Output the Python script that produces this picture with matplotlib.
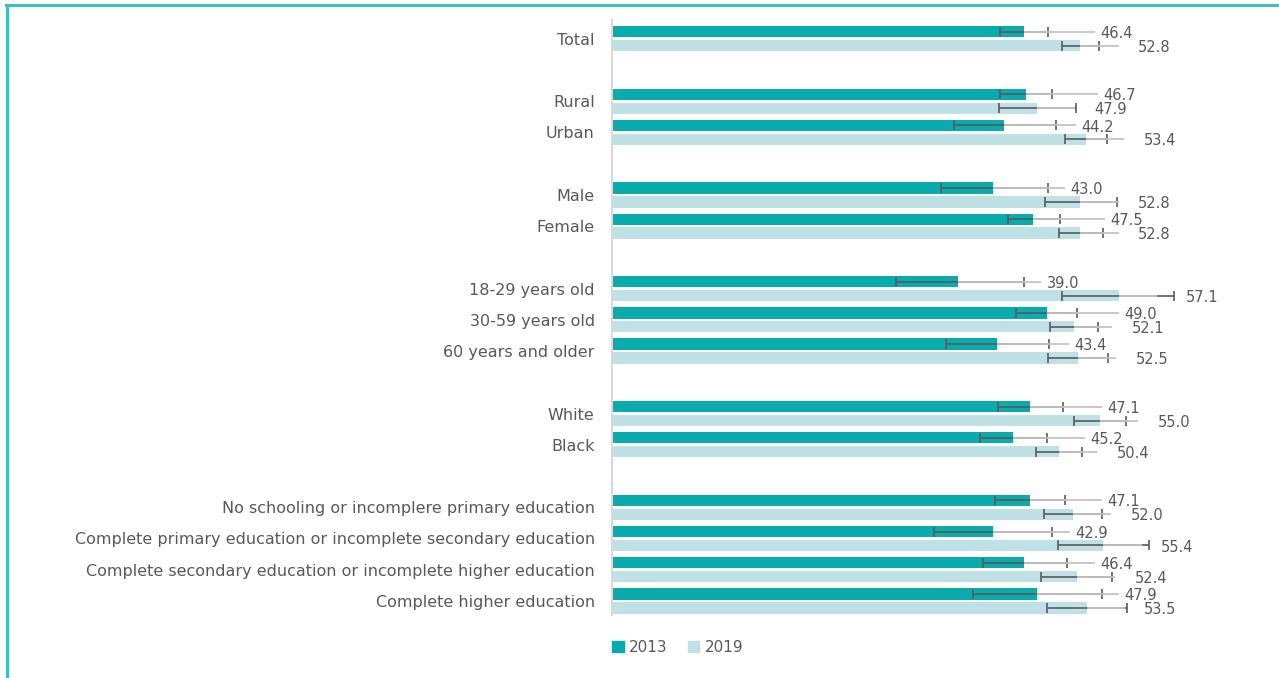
import matplotlib
matplotlib.use("Agg")
import matplotlib.pyplot as plt
from matplotlib.patches import Patch
from matplotlib.lines import Line2D
import numpy as np

categories = ["Total", "Rural", "Urban", "Male", "Female",
              "18-29 years old", "30-59 years old", "60 years and older",
              "White", "Black",
              "No schooling or incomplere primary education",
              "Complete primary education or incomplete secondary education",
              "Complete secondary education or incomplete higher education",
              "Complete higher education"]
# slot of each category on the vertical axis (blank slots separate the groups)
slots = [0, 2, 3, 5, 6, 8, 9, 10, 12, 13, 15, 16, 17, 18]

v2013 = [46.4, 46.7, 44.2, 43.0, 47.5, 39.0, 49.0, 43.4, 47.1, 45.2, 47.1, 42.9, 46.4, 47.9]
lo2013 = [43.7, 43.7, 38.5, 37.1, 44.6, 32.0, 45.5, 37.7, 43.5, 41.5, 43.2, 36.3, 41.8, 40.7]
hi2013 = [49.1, 49.6, 50.0, 49.1, 50.5, 46.4, 52.4, 49.3, 50.8, 49.0, 51.1, 49.6, 51.3, 55.2]

v2019 = [52.8, 47.9, 53.4, 52.8, 52.8, 57.1, 52.1, 52.5, 55.0, 50.4, 52.0, 55.4, 52.4, 53.5]
lo2019 = [50.7, 43.6, 51.1, 48.8, 50.4, 50.7, 49.4, 49.2, 52.1, 47.8, 48.7, 50.3, 48.4, 49.0]
hi2019 = [54.9, 52.3, 55.8, 56.9, 55.3, 63.3, 54.8, 55.9, 57.9, 53.0, 55.2, 60.5, 56.4, 58.0]

c2013 = "#0aabad"
c2019 = "#bfe1e6"
txt = "#595959"

fig = plt.figure(figsize=(12.79, 6.78), dpi=100)
ax = fig.add_axes([0.4785, 0.0929, 0.4855, 0.8776])

y = np.array(slots, dtype=float)
h = 0.36
off = 0.223

# (values, low, high, y, colour, leader length, label pad from value, label pad from high)
series = [
    (v2013, lo2013, hi2013, y - off, c2013, 8.1, 8.7, 2.6),
    (v2019, lo2019, hi2019, y + off, c2019, 4.3, 6.5, 1.4),
]
for vals, lo, hi, yy, col, lead, pad, hpad in series:
    vals = np.array(vals); lo = np.array(lo); hi = np.array(hi)
    ax.barh(yy, vals, height=h, color=col, zorder=2)
    ax.errorbar(vals, yy, xerr=[vals - lo, hi - vals], fmt="none",
                ecolor="#5a5a5a", elinewidth=1.2, capsize=3.6, capthick=1.2, zorder=3)
    for v, top, yi in zip(vals, hi, yy):
        tx = max(v + pad, top + hpad)
        ax.plot([v, tx - 0.6 if lead > 5 else v + lead], [yi, yi], color="#c4c4c4",
                lw=1.3, zorder=4, solid_capstyle="butt")
        ax.text(tx, yi + 0.05, f"{v:.1f}", va="center", ha="left",
                fontsize=10.5, color=txt)

ax.set_xlim(0, 70)
ax.set_ylim(18.45, -0.6)
ax.set_yticks(y)
ax.set_yticklabels(categories, fontsize=11.5, color=txt)
ax.tick_params(axis="y", length=0, pad=12.5)
ax.set_xticks([])
for s in ["top", "right", "bottom"]:
    ax.spines[s].set_visible(False)
ax.spines["left"].set_color("#d9d9d9")
ax.spines["left"].set_linewidth(1.5)

handles = [Patch(color=c2013, label="2013"), Patch(color=c2019, label="2019")]
fig.legend(handles=handles, loc="center left", bbox_to_anchor=(0.468, 0.045),
           ncol=2, frameon=False, fontsize=11, handlelength=0.75, handleheight=0.75,
           handletextpad=0.35, columnspacing=1.3, labelcolor=txt)

# frame lines on the left and top
fig.add_artist(Line2D([7 / 1279, 7 / 1279], [0, 1 - 5 / 678], color="#3cc0bd", lw=2.2,
                      transform=fig.transFigure))
fig.add_artist(Line2D([6 / 1279, 1], [1 - 5 / 678, 1 - 5 / 678], color="#3cc0bd", lw=2.2,
                      transform=fig.transFigure))

fig.savefig("out.png", dpi=100)
